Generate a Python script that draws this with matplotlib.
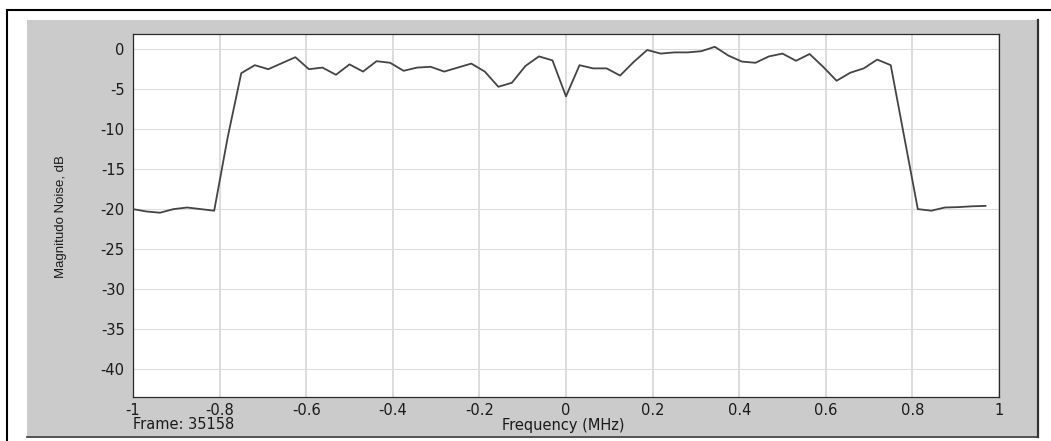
import numpy as np
import matplotlib
matplotlib.use("Agg")
import matplotlib.pyplot as plt
from matplotlib import font_manager
from matplotlib.lines import Line2D
from matplotlib.patches import Rectangle

# frequency bins (MHz), 64 bins over -1..1
freq = np.arange(64) / 32 - 1

# magnitude noise in dB
magnitude = [
    -20.0, -20.3, -20.45, -20.0, -19.8, -20.0, -20.2, -11.0,
    -3.0, -2.0, -2.5, -1.75, -1.0, -2.5, -2.3, -3.2,
    -1.9, -2.8, -1.5, -1.7, -2.7, -2.3, -2.2, -2.8,
    -2.3, -1.8, -2.8, -4.7, -4.2, -2.1, -0.9, -1.4,
    -5.9, -2.0, -2.4, -2.4, -3.3, -1.6, -0.1, -0.55,
    -0.4, -0.4, -0.25, 0.3, -0.8, -1.55, -1.7, -0.9,
    -0.55, -1.45, -0.6, -2.2, -3.95, -2.95, -2.4, -1.3,
    -2.0, -11.0, -20.0, -20.2, -19.8, -19.75, -19.65, -19.6,
]

xticks = [-1, -0.8, -0.6, -0.4, -0.2, 0, 0.2, 0.4, 0.6, 0.8, 1]
xtick_labels = ["-1", "-0.8", "-0.6", "-0.4", "-0.2", "0", "0.2", "0.4", "0.6", "0.8", "1"]
yticks = [0, -5, -10, -15, -20, -25, -30, -35, -40]
ytick_labels = ["0", "-5", "-10", "-15", "-20", "-25", "-30", "-35", "-40"]

W, H = 1051, 441


def fx(px):
    return px / W


def fy(py):
    return 1 - py / H


# the y label looks condensed in the original; use the narrow face if it is there
names = {f.name for f in font_manager.fontManager.ttflist}
if "Liberation Sans Narrow" in names:
    ylab_font, ylab_size = "Liberation Sans Narrow", 11.5
else:
    ylab_font, ylab_size = "Liberation Sans", 9.5

fig = plt.figure(figsize=(W / 100, H / 100), dpi=100, facecolor="white")

# grey panel with a dark shadow on the right and bottom
fig.add_artist(Rectangle((fx(27), fy(436)), fx(1037) - fx(27), fy(20) - fy(436),
                         transform=fig.transFigure, facecolor="#cbcbcb", edgecolor="none", zorder=0))
fig.add_artist(Line2D([fx(1038), fx(1038)], [fy(20), fy(437)], transform=fig.transFigure,
                      color="#333333", lw=1.6, zorder=1))
fig.add_artist(Line2D([fx(27), fx(1038)], [fy(436.5), fy(436.5)], transform=fig.transFigure,
                      color="#333333", lw=1.2, zorder=1))
# outer black frame (top and left)
fig.add_artist(Line2D([fx(7), fx(7)], [fy(10), 0], transform=fig.transFigure,
                      color="black", lw=1.5, zorder=1))
fig.add_artist(Line2D([fx(7), 1], [fy(10), fy(10)], transform=fig.transFigure,
                      color="black", lw=1.5, zorder=1))

ax = fig.add_axes([fx(133), fy(397), fx(999) - fx(133), fy(34) - fy(397)])
ax.set_facecolor("white")
ax.plot(freq, magnitude, color="#444444", lw=1.3, zorder=3)

ax.set_xlim(-1, 1)
ax.set_ylim(-43.5, 1.9)
ax.set_xticks(xticks)
ax.set_xticklabels(xtick_labels)
ax.set_yticks(yticks)
ax.set_yticklabels(ytick_labels)
ax.tick_params(length=0, labelsize=10.5, colors="#1a1a1a")
ax.tick_params(axis="x", pad=4.0)
ax.tick_params(axis="y", pad=6)
for lab in ax.get_xticklabels() + ax.get_yticklabels():
    lab.set_family("DejaVu Sans")

ax.grid(axis="x", color="#d6d6d6", lw=1.2, zorder=1)
ax.grid(axis="y", color="#dcdcdc", lw=0.8, zorder=1)
ax.set_axisbelow(True)
for side in ax.spines.values():
    side.set_color("#2a2a2a")
    side.set_linewidth(0.9)

fig.text(fx(61), fy(217), "Magnitudo Noise, dB", rotation=90, ha="center", va="center",
         family=ylab_font, fontsize=ylab_size, color="#1a1a1a")
fig.text(fx(133), fy(424.5), "Frame: 35158", ha="left", va="center",
         family="DejaVu Sans", fontsize=10.5, color="#1a1a1a")
fig.text(fx(563), fy(425.5), "Frequency (MHz)", ha="center", va="center",
         family="DejaVu Sans", fontsize=10.5, color="#1a1a1a")

fig.savefig("out.png", dpi=100, facecolor="white")
